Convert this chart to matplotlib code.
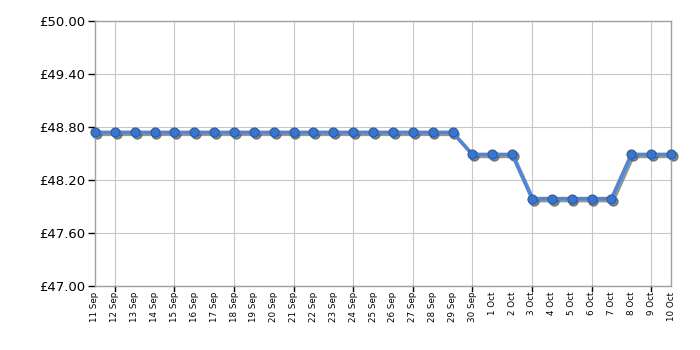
import matplotlib
matplotlib.use("Agg")
import matplotlib.pyplot as plt
from matplotlib.transforms import offset_copy

dates = ["11 Sep", "12 Sep", "13 Sep", "14 Sep", "15 Sep", "16 Sep", "17 Sep", "18 Sep",
         "19 Sep", "20 Sep", "21 Sep", "22 Sep", "23 Sep", "24 Sep", "25 Sep", "26 Sep",
         "27 Sep", "28 Sep", "29 Sep", "30 Sep", "1 Oct", "2 Oct", "3 Oct", "4 Oct",
         "5 Oct", "6 Oct", "7 Oct", "8 Oct", "9 Oct", "10 Oct"]
prices = [48.74] * 19 + [48.49, 48.49, 48.49] + [47.99] * 5 + [48.49, 48.49, 48.49]
yticks = [47.00, 47.60, 48.20, 48.80, 49.40, 50.00]

fig = plt.figure(figsize=(7, 3.5), dpi=100)
ax = fig.add_axes([95/700, 1-286/350, (671-95)/700, (286-21)/350])

x = list(range(len(dates)))
shadow_tr = offset_copy(ax.transData, fig=fig, x=1.3, y=-1.5, units="points")
ax.plot(x, prices, color="#707070", lw=2.5, marker="o", ms=6.5,
        markerfacecolor="#606060", markeredgecolor="#606060", alpha=0.75,
        zorder=2, clip_on=False, transform=shadow_tr)
ax.plot(x, prices, color="#4f86d8", lw=2.5, marker="o", ms=6.5,
        markerfacecolor="#3a75cc", markeredgecolor="#2a5aa8", markeredgewidth=0.8,
        zorder=3, clip_on=False)

ax.set_xlim(0, len(dates) - 1)
ax.set_ylim(47.0, 50.0)
ax.set_yticks(yticks)
ax.set_yticklabels([f"£{v:.2f}" for v in yticks], fontsize=9.5)

ax.set_xticks(x)
ax.set_xticklabels(dates, rotation=90, fontsize=6.3)
major = [i for i in x if i % 3 == 1]
ax.tick_params(axis="x", length=0, pad=4)
for i in major:
    ax.axvline(i, color="#c8c8c8", lw=0.8, zorder=1)
    ax.plot([i, i], [0, -0.018], transform=ax.get_xaxis_transform(), color="black", lw=1, clip_on=False)
for v in yticks:
    ax.axhline(v, color="#c8c8c8", lw=0.8, zorder=1)
ax.tick_params(axis="y", length=5, width=1, color="black", pad=2)

for s in ax.spines.values():
    s.set_color("#a0a0a0")
    s.set_linewidth(1)

fig.savefig("out.png", dpi=100)
